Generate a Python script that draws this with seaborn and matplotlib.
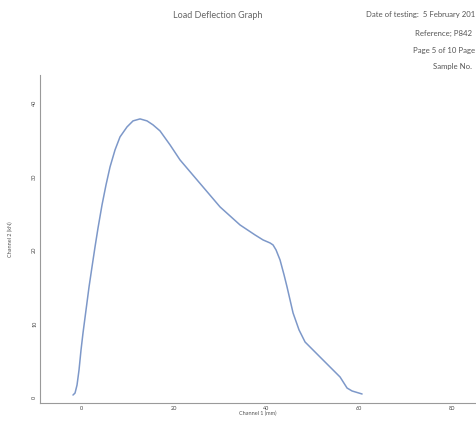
import numpy as np
import pandas as pd
import matplotlib
matplotlib.use("Agg")
import matplotlib.pyplot as plt
import seaborn as sns

# Values
deflection = [-1.73, -1.29, -0.86, -0.43, 0.0, 0.43, 1.08, 1.73, 2.37, 3.02, 3.67,
              4.53, 5.39, 6.26, 7.34, 8.41, 9.92, 11.22, 12.73, 14.24, 15.53,
              17.04, 19.20, 21.36, 25.03, 29.99, 34.30, 37.54, 39.27, 40.78,
              41.42, 42.07, 42.93, 43.80, 44.44, 45.74, 47.03, 48.33, 51.56,
              55.88, 57.39, 58.47, 60.63]
load = [0.27, 0.54, 1.63, 3.67, 6.39, 8.71, 11.84, 14.97, 17.69, 20.41, 22.99,
        26.12, 28.84, 31.29, 33.61, 35.37, 36.73, 37.55, 37.82, 37.55, 37.01,
        36.19, 34.29, 32.24, 29.52, 25.85, 23.40, 22.04, 21.36, 20.95,
        20.68, 20.00, 18.64, 16.60, 14.97, 11.43, 9.12, 7.48, 5.44,
        2.72, 1.22, 0.82, 0.41]
x_ticks = [0, 20, 40, 60, 80]
y_ticks = [0, 10, 20, 30, 40]

df = pd.DataFrame({"Channel 1 (mm)": deflection, "Channel 2 (kN)": load})

sns.set_style("white")
plt.rcParams['font.family'] = ['Lato', 'DejaVu Sans']

fig = plt.figure(figsize=(4.76, 4.21), dpi=100)
ax = fig.add_axes([0.084, 0.043, 0.916, 0.779])

sns.lineplot(data=df, x="Channel 1 (mm)", y="Channel 2 (kN)", ax=ax,
             color="#7d98c9", linewidth=1.1, sort=False)

ax.set_xlim(-8.85, 85.2)
ax.set_ylim(-0.8, 43.8)
ax.set_xticks(x_ticks)
ax.set_yticks(y_ticks)
ax.tick_params(axis="both", labelsize=4, colors="#444444", length=0, pad=2)
for lab in ax.get_yticklabels():
    lab.set_rotation(90)
    lab.set_va("center")
ax.set_xlabel("Channel 1 (mm)", fontsize=4, color="#555555", labelpad=0)
ax.set_ylabel("Channel 2 (kN)", fontsize=4, color="#555555", labelpad=14)

for side in ["top", "right"]:
    ax.spines[side].set_visible(False)
for side in ["left", "bottom"]:
    ax.spines[side].set_color("#9a9a9a")
    ax.spines[side].set_linewidth(0.8)

# header text of the report page (right block is cut by the scan edge)
fig.text(218 / 476, 1 - 16 / 421, "Load Deflection Graph", fontsize=6.5,
         color="#666666", ha="center", va="center")
fig.text(475 / 476, 1 - 15 / 421, "Date of testing:  5 February 201", fontsize=5.6,
         color="#555555", ha="right", va="center")
fig.text(472 / 476, 1 - 33 / 421, "Reference; P842", fontsize=5.6,
         color="#555555", ha="right", va="center")
fig.text(475 / 476, 1 - 50 / 421, "Page 5 of 10 Page", fontsize=5.6,
         color="#555555", ha="right", va="center")
fig.text(433 / 476, 1 - 67 / 421, "Sample No.", fontsize=5.6,
         color="#555555", ha="left", va="center")

fig.savefig("out.png", dpi=100)
